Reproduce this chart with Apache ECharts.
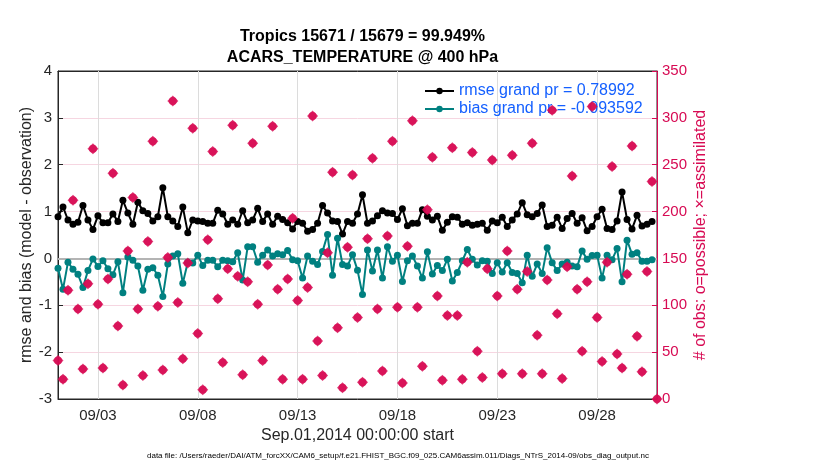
<!DOCTYPE html>
<html><head><meta charset="utf-8">
<script src="https://cdn.jsdelivr.net/npm/echarts@6/dist/echarts.min.js"></script>
<style>html,body{margin:0;padding:0;background:#fff}#c{width:830px;height:470px}</style>
</head><body><div id="c"></div>
<script>
const titleLines = ['Tropics 15671 / 15679 = 99.949%', 'ACARS_TEMPERATURE @ 400 hPa'];
const xAxisName = 'Sep.01,2014 00:00:00 start';
const leftAxisName = 'rmse and bias (model - observation)';
const rightAxisName = '# of obs: o=possible; \u00d7=assimilated';
const footnote = 'data file: /Users/raeder/DAI/ATM_forcXX/CAM6_setup/f.e21.FHIST_BGC.f09_025.CAM6assim.011/Diags_NTrS_2014-09/obs_diag_output.nc';
const legendLabels = ['rmse grand pr = 0.78992', 'bias grand pr = -0.093592'];
const tickDays = [2, 7, 12, 17, 22, 27];
const tickLabels = ['09/03', '09/08', '09/13', '09/18', '09/23', '09/28'];
const binDays = 0.25; // 6-hourly bins, days since Sep 01 00Z

const rmse = [
  0.89, 1.10, 0.82, 0.73, 0.77, 1.13, 0.82, 0.62, 0.91, 0.76, 0.76, 0.95,
  0.79, 1.24, 0.97, 0.73, 1.20, 1.02, 0.96, 0.80, 0.89, 1.51, 0.89, 0.80,
  0.68, 1.10, 0.55, 0.82, 0.80, 0.79, 0.75, 0.75, 1.03, 0.95, 0.73, 0.82,
  0.73, 1.02, 0.76, 0.82, 1.07,
  0.79, 0.95, 0.73, 0.90, 0.83, 0.76, 0.63, 0.79, 0.75, 0.58, 0.62, 0.75,
  1.13, 0.97, 0.80, 0.79, 0.52, 0.79, 0.75, 0.95, 1.36, 0.75, 0.80, 0.91,
  1.02, 0.97, 0.96, 0.83, 1.06, 0.70, 0.75, 0.75, 1.04, 0.90, 0.82, 0.90,
  0.60, 0.77, 0.89, 0.88,
  0.73, 0.76, 0.71, 0.73, 0.75, 0.60, 0.80, 0.76, 0.88, 0.68, 0.82, 0.95,
  1.19, 0.93, 0.89, 0.96, 1.14, 0.68, 0.71, 0.88, 0.64, 0.85, 0.96, 0.75,
  0.87, 0.59, 0.68, 0.89, 1.05, 0.64, 0.62, 0.80, 1.42, 0.83, 0.63, 0.92,
  0.69, 0.73, 0.79
];
const bias = [
  -0.21, -0.66, -0.08, -0.23, -0.34, -0.62, -0.26, -0.01, -0.17, -0.05, -0.22, -0.35,
  -0.07, -0.73, 0.03, -0.04, -0.16, -0.68, -0.23, -0.20, -0.36, -0.81, -0.12, 0.05,
  0.10, -0.53, -0.08, -0.10, 0.07, -0.15, -0.04, -0.04, -0.18, -0.04, -0.05, -0.07,
  0.12, -0.46, 0.25, 0.25, -0.08,
  0.07, 0.18, 0.05, 0.10, 0.08, 0.17, -0.03, -0.05, -0.42, 0.05, -0.06, -0.13,
  0.15, 0.51, -0.36, 0.43, -0.13, -0.16, 0.08, -0.25, -0.77, 0.18, -0.27, 0.18,
  -0.42, 0.25, -0.06, 0.07, -0.49, -0.05, 0.05, -0.16, -0.42, 0.14, -0.33, -0.15,
  -0.26, -0.02, -0.48, -0.30,
  -0.05, 0.19, -0.02, -0.14, -0.05, -0.06, -0.32, -0.09, -0.29, -0.09, -0.30, -0.32,
  -0.52, 0.07, -0.38, -0.12, -0.32, 0.23, -0.09, -0.26, -0.12, -0.08, -0.16, -0.18,
  0.16, -0.02, 0.06, 0.07, -0.42, 0.07, -0.03, 0.21, -0.50, 0.39, 0.09, 0.12,
  -0.06, -0.06, -0.03
];
const obsCount = [
  41, 21, 116, 212, 96, 32, 123, 267, 101, 33, 128, 241, 78, 15, 158, 215,
  96, 25, 168, 275, 99, 31, 151, 318, 103, 43, 145, 289, 70, 10, 170, 264,
  107, 39, 139, 292, 131, 26, 125, 273, 101,
  41, 143, 291, 117, 21, 128, 193, 105, 21, 119, 302, 62, 25, 156, 242, 76,
  12, 162, 239, 87, 18, 171, 257, 96, 30, 174, 275, 98, 17, 163, 297, 98,
  35, 202, 258, 110, 20, 89, 268, 89,
  21, 146, 263, 51, 23, 139, 255, 110, 27, 158, 260, 117, 27, 136, 273, 68,
  27, 127, 308, 91, 22, 141, 238, 117, 51, 125, 312, 87, 40, 146, 248, 48,
  33, 133, 270, 67, 29, 136, 232, 0
];

const FONT = '"Liberation Sans", Arial, Helvetica, sans-serif';
const INK = '#262626';
const RED = '#d70a53';
const TEAL = '#008080';
const BLUE = '#1560ff';

const pairs = arr => arr.map((v, i) => [i * binDays, v]);
const tickFmt = v => { const k = tickDays.indexOf(Math.round(v)); return k >= 0 ? tickLabels[k] : ''; };

const chart = echarts.init(document.getElementById('c'));
chart.setOption({
  animation: false,
  backgroundColor: '#fff',
  textStyle: { fontFamily: FONT },
  title: {
    text: titleLines.join('\n'),
    left: 357.5, top: 21, textAlign: 'center',
    textStyle: { fontFamily: FONT, fontSize: 16, fontWeight: 'bold', color: '#000', lineHeight: 21 }
  },
  legend: {
    left: 424, top: 83, padding: 0, orient: 'vertical', itemGap: 2, itemWidth: 29, itemHeight: 8,
    data: legendLabels,
    textStyle: { fontFamily: FONT, fontSize: 16, color: BLUE },
    z: 3
  },
  grid: { left: 58, right: 173, top: 71, bottom: 71, show: true, borderColor: INK, borderWidth: 1, backgroundColor: 'transparent' },
  graphic: [{
    type: 'text', left: 147, top: 452, z: 10,
    style: { text: footnote, fontFamily: FONT, fontSize: 8, fill: '#000' }
  }],
  xAxis: [{
    type: 'value', min: 0, max: 30, position: 'bottom',
    name: xAxisName, nameLocation: 'middle', nameGap: 28,
    nameTextStyle: { fontFamily: FONT, fontSize: 16, color: INK },
    axisLine: { show: true, onZero: false, lineStyle: { color: INK, width: 1 } },
    axisTick: { show: true, inside: true, length: 5, customValues: tickDays, lineStyle: { color: INK } },
    axisLabel: { show: true, customValues: tickDays, formatter: tickFmt, margin: 9, fontFamily: FONT, fontSize: 15, color: INK },
    splitLine: { show: false }
  }, {
    type: 'value', min: 0, max: 30, position: 'top',
    axisLine: { show: true, onZero: false, lineStyle: { color: INK, width: 1 } },
    axisTick: { show: true, inside: true, length: 5, customValues: tickDays, lineStyle: { color: INK } },
    axisLabel: { show: false },
    splitLine: { show: false }
  }],
  yAxis: [{
    type: 'value', min: -3, max: 4, interval: 1, position: 'left',
    name: leftAxisName, nameLocation: 'middle', nameGap: 23, nameMoveOverlap: false,
    nameTextStyle: { fontFamily: FONT, fontSize: 16, color: INK },
    axisLine: { show: true, onZero: false, lineStyle: { color: INK, width: 1 } },
    axisTick: { show: true, inside: true, length: 5, lineStyle: { color: INK } },
    axisLabel: { margin: 6, fontFamily: FONT, fontSize: 15, color: INK },
    splitLine: { show: true, lineStyle: { color: '#f6d6e1', width: 1 } }
  }, {
    type: 'value', min: 0, max: 350, interval: 50, position: 'right',
    name: rightAxisName, nameLocation: 'middle', nameGap: 36, nameMoveOverlap: false,
    nameTextStyle: { fontFamily: FONT, fontSize: 16, color: RED },
    axisLine: { show: true, onZero: false, lineStyle: { color: RED, width: 1 } },
    axisTick: { show: true, inside: true, length: 5, lineStyle: { color: RED } },
    axisLabel: { margin: 5, fontFamily: FONT, fontSize: 15, color: RED },
    splitLine: { show: false }
  }],
  series: [{
    name: legendLabels[0], type: 'line', xAxisIndex: 0, yAxisIndex: 0, z: 3,
    data: pairs(rmse), symbol: 'circle', symbolSize: 7, showAllSymbol: true,
    lineStyle: { color: '#000', width: 2 }, itemStyle: { color: '#000' },
    markLine: {
      silent: true, symbol: 'none', z: 1, animation: false, label: { show: false },
      data: tickDays.map(d => ({ xAxis: d, lineStyle: { color: '#dcdcdc', width: 1, type: 'solid' } }))
        .concat([{ yAxis: 0, lineStyle: { color: '#b4b4b4', width: 2, type: 'solid' } }])
    }
  }, {
    name: legendLabels[1], type: 'line', xAxisIndex: 0, yAxisIndex: 0, z: 4,
    data: pairs(bias), symbol: 'circle', symbolSize: 7, showAllSymbol: true,
    lineStyle: { color: TEAL, width: 2 }, itemStyle: { color: TEAL }
  }, {
    name: 'possible', type: 'scatter', xAxisIndex: 0, yAxisIndex: 1, z: 6,
    data: pairs(obsCount), symbol: 'diamond', symbolSize: 11,
    itemStyle: { color: RED }
  }, {
    name: 'assimilated', type: 'scatter', xAxisIndex: 0, yAxisIndex: 1, z: 6,
    data: pairs(obsCount), symbol: 'circle', symbolSize: 8,
    itemStyle: { color: RED }
  }]
});
</script></body></html>
